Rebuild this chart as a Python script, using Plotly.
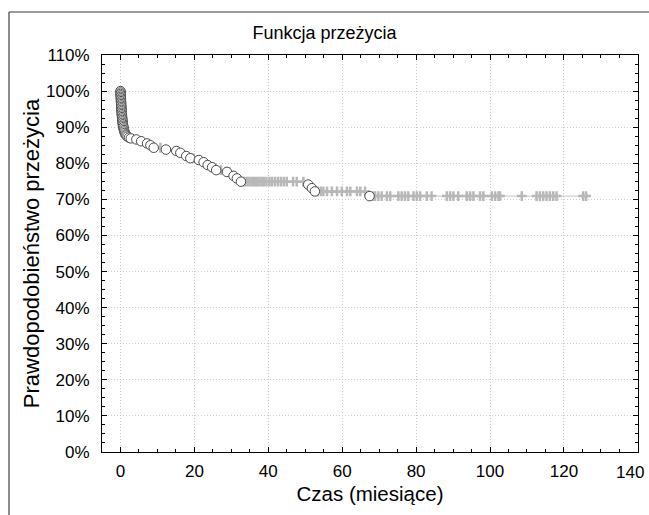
import plotly.graph_objects as go

# Event (complete) observations: time in months, survival %
event_time = [0.0, 0.02, 0.04, 0.06, 0.08, 0.1, 0.12, 0.14, 0.16, 0.18, 0.2, 0.22, 0.25, 0.28, 0.3,
              0.33, 0.36, 0.4, 0.43, 0.47, 0.5, 0.55, 0.6, 0.65, 0.7, 0.78, 0.85, 0.95, 1.05, 1.2,
              1.4, 1.6, 1.9, 2.3, 2.8, 4.3, 5.6, 7.2, 8.1, 9.0, 12.3, 15.1, 16.2, 17.8, 18.9, 21.2,
              22.5, 23.6, 24.8, 25.9, 28.8, 30.6, 31.5, 32.6, 50.8, 51.8, 52.6, 67.4]
event_surv = [100.0, 99.6, 99.2, 98.8, 98.4, 98.0, 97.6, 97.2, 96.8, 96.4, 96.0, 95.6, 95.2, 94.8, 94.4,
              94.0, 93.6, 93.2, 92.8, 92.4, 92.0, 91.6, 91.2, 90.8, 90.4, 90.0, 89.6, 89.2, 88.8, 88.4,
              88.0, 87.7, 87.4, 87.1, 86.9, 86.6, 86.1, 85.5, 85.0, 84.3, 83.8, 83.4, 82.9, 82.0, 81.4, 80.9,
              80.3, 79.5, 78.9, 78.1, 77.6, 76.5, 75.8, 74.9, 74.1, 73.1, 72.2, 70.9]

# Censored observations: time in months, survival %
cens_time = [10.8, 19.8, 27.2, 29.5, 33.4, 34.0, 34.6, 35.2, 35.8, 36.4, 37.0, 37.6, 38.2, 38.8, 39.5,
             40.3, 41.0, 41.8, 42.6, 43.4, 44.2, 45.0, 46.7, 47.7, 49.5,
             53.4, 54.2, 54.9, 55.9, 57.2, 58.6, 59.9, 61.3, 62.2, 64.0, 64.9, 66.2,
             68.3, 68.9, 69.8, 70.7, 72.1, 73.0, 75.2, 76.1, 77.0, 77.9, 79.3, 80.2, 81.1, 82.9, 84.2,
             88.3, 89.2, 90.1, 91.4, 93.7, 94.6, 95.5, 97.3, 98.2, 100.5, 101.4, 102.3, 102.7,
             108.6, 112.6, 113.5, 114.4, 115.3, 116.2, 117.1, 118.0, 125.2, 126.0]
cens_surv = [84.3, 81.4, 78.1, 77.6, 74.9, 74.9, 74.9, 74.9, 74.9, 74.9, 74.9, 74.9, 74.9, 74.9, 74.9,
             74.9, 74.9, 74.9, 74.9, 74.9, 74.9, 74.9, 74.9, 74.9, 74.9,
             72.2, 72.2, 72.2, 72.2, 72.2, 72.2, 72.2, 72.2, 72.2, 72.2, 72.2, 72.2,
             70.9, 70.9, 70.9, 70.9, 70.9, 70.9, 70.9, 70.9, 70.9, 70.9, 70.9, 70.9, 70.9, 70.9, 70.9,
             70.9, 70.9, 70.9, 70.9, 70.9, 70.9, 70.9, 70.9, 70.9, 70.9, 70.9, 70.9, 70.9,
             70.9, 70.9, 70.9, 70.9, 70.9, 70.9, 70.9, 70.9, 70.9, 70.9]

x_ticks = [0, 20, 40, 60, 80, 100, 120, 140]
x_tick_labels = ["0", "20", "40", "60", "80", "100", "120", "140"]
y_ticks = [0, 10, 20, 30, 40, 50, 60, 70, 80, 90, 100, 110]
y_tick_labels = [f"{v}%" for v in y_ticks]

# combined line through all points (sorted by time)
pts = sorted(zip(event_time + cens_time, event_surv + cens_surv), key=lambda p: (p[0], -p[1]))
line_x = [p[0] for p in pts]
line_y = [p[1] for p in pts]

fig = go.Figure()
fig.add_trace(go.Scatter(x=line_x, y=line_y, mode="lines",
                         line=dict(color="#c4c4c4", width=1, shape="hv"),
                         hoverinfo="skip", showlegend=False))
fig.add_trace(go.Scatter(x=cens_time, y=cens_surv, mode="markers",
                         marker=dict(symbol="cross-thin", size=7,
                                     line=dict(color="#b8b8b8", width=2.5)),
                         showlegend=False))
fig.add_trace(go.Scatter(x=event_time, y=event_surv, mode="markers",
                         marker=dict(symbol="circle", size=9.5, color="white",
                                     line=dict(color="#4a4a4a", width=1)),
                         showlegend=False))

font_family = "Liberation Sans, Arial, sans-serif"
L, R, T, B = 102, 638, 55, 452
W, H = R - L, B - T

# last tick label drawn as annotation, right-aligned so it stays inside the page
last_label = dict(text=x_tick_labels[-1], x=x_ticks[-1], xref="x", y=0, yref="paper",
                  xanchor="right", yanchor="top", xshift=8, yshift=-9, showarrow=False,
                  font=dict(size=17, family=font_family, color="black"))

fig.update_layout(
    width=649, height=515,
    margin=dict(l=L, r=649 - R, t=T, b=515 - B),
    paper_bgcolor="white", plot_bgcolor="white",
    font=dict(family=font_family, color="black", size=17),
    title=dict(text="Funkcja przeżycia", x=0.5, xref="container", xanchor="center",
               y=1 - 33 / 515, yref="container", yanchor="middle", font=dict(size=18)),
    annotations=[last_label],
    shapes=[
        dict(type="line", xref="paper", yref="paper", x0=(9 - L) / W, x1=1.1,
             y0=1 + (T - 12) / H, y1=1 + (T - 12) / H,
             line=dict(color="#7a7a7a", width=1.5)),
        dict(type="line", xref="paper", yref="paper", x0=(9 - L) / W, x1=(9 - L) / W,
             y0=1 + (T - 12) / H, y1=-0.3,
             line=dict(color="#404040", width=1.2)),
    ],
)
fig.update_xaxes(
    range=[-5, 140.05], tickvals=x_ticks, ticktext=x_tick_labels[:-1] + [""], ticks="inside",
    ticklen=5, tickcolor="black",
    showline=True, linecolor="black", linewidth=1, mirror="ticks", automargin=False,
    showgrid=True, gridcolor="#cccccc", griddash="1px,2px", gridwidth=1, zeroline=False,
    minor=dict(dtick=5, tick0=0, ticks="inside", ticklen=3, tickcolor="black", showgrid=False),
    tickfont=dict(size=17), ticklabelstandoff=4,
    title=dict(text="Czas (miesiące)", font=dict(size=20.5), standoff=6),
)
fig.update_yaxes(
    range=[0, 110], tickvals=y_ticks, ticktext=y_tick_labels, ticks="inside", ticklen=5,
    tickcolor="black", showline=True, linecolor="black", linewidth=1, mirror="ticks",
    automargin=False,
    showgrid=True, gridcolor="#cccccc", griddash="1px,2px", gridwidth=1, zeroline=False,
    minor=dict(dtick=2.5, tick0=0, ticks="inside", ticklen=3, tickcolor="black", showgrid=False),
    tickfont=dict(size=17), ticklabelstandoff=8,
    title=dict(text="Prawdopodobieństwo przeżycia", font=dict(size=22), standoff=0),
)

fig.write_html("out.html", config={"displayModeBar": False},
               post_script="document.body.style.margin='0';document.body.style.overflow='hidden';")
